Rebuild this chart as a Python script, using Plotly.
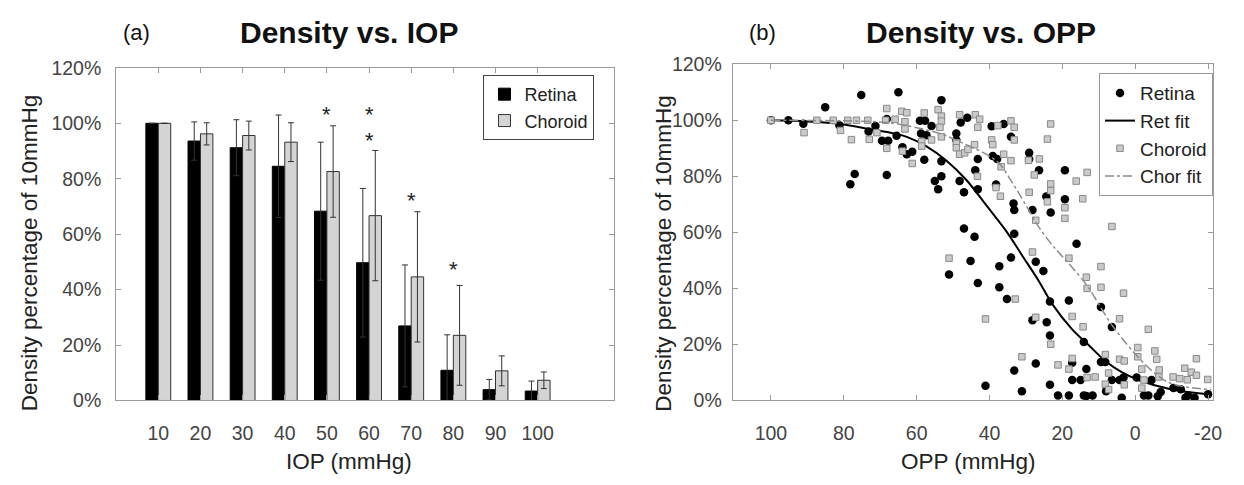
import plotly.graph_objects as go

# ---------------- Panel (a): Density vs. IOP ----------------
iop = [10, 20, 30, 40, 50, 60, 70, 80, 90, 100]
ret_mean = [100, 93.6, 91.2, 84.5, 68.3, 49.7, 26.9, 10.9, 3.9, 3.4]
ret_err = [0, 6.9, 10.1, 18.5, 24.9, 26.8, 22.0, 12.8, 3.7, 3.6]
cho_mean = [100, 96.2, 95.6, 93.2, 82.6, 66.7, 44.6, 23.5, 10.7, 7.3]
cho_err = [0, 4.0, 5.2, 7.0, 16.5, 23.5, 23.5, 18.0, 5.4, 3.0]
star_x = [50, 60, 60, 70, 80]
star_y = [105.4, 105.4, 95.8, 74.3, 49.3]
pct_ticks = [0, 20, 40, 60, 80, 100, 120]
pct_text = ["0%", "20%", "40%", "60%", "80%", "100%", "120%"]

# ---------------- Panel (b): Density vs. OPP ----------------
ret_opp = [100, 95.2, 91.1, 85.1, 81.2, 78.2, 77.0, 75.2, 73.2, 71.3, 69.5, 67.8, 68.2, 68.2,
           65.0, 53.2, 65.5, 59.1, 57.7, 55.9, 58.8, 57.3, 63.9, 61.2, 62.7, 57.9, 53.2,
           55.0, 54.1, 53.2, 49.1, 49.1, 47.9, 46.1, 48.2, 47.0, 43.9, 43.2, 43.2, 39.4, 36.1,
           34.1, 39.1, 37.9, 38.2, 33.4, 33.2, 29.1, 29.1, 28.2, 47.0, 44.1, 33.2,
           51.1, 45.2, 43.2, 37.3, 34.1, 37.3, 35.2, 33.2, 41.1, 31.1,
           16.1, 27.3, 25.2, 23.4, 18.2, 9.4, 28.2, 24.3, 23.4, 6.4, 14.1, 27.3, 9.4, 8.2,
           17.3, 13.4, 23.4, 17.3, 15.0, 6.4, 4.3, -0.4, 21.2, 18.2, 14.1, 13.4, 11.7, 8.0,
           3.7, -2.4, -3.6, 3.2, -4.5,
           26.4, 19.3, 24.4, 19.3, 23.2,
           -6.2, -7.0, -10.5, -12.5, -13.8, -16.3, -20.0, -14.5]
ret_val = [100, 100, 98.8, 104.7, 98.2, 77.2, 80.8, 109.0, 96.0, 98.0, 92.7, 92.7, 80.5, 100.5,
           110.0, 107.2, 94.5, 99.8, 99.8, 98.0, 95.3, 94.7, 90.4, 88.8, 87.9, 85.9, 85.4,
           78.3, 75.4, 80.0, 95.3, 93.0, 99.2, 100.9, 78.3, 74.3, 82.2, 86.2, 75.4, 97.9, 98.7,
           94.1, 87.3, 86.2, 77.1, 70.3, 68.0, 88.4, 86.2, 68.0, 61.4, 58.4, 59.5,
           45.0, 49.8, 41.9, 47.9, 51.0, 40.4, 36.2, 10.7, 5.3, 3.3,
           55.9, 49.5, 46.2, 35.3, 35.7, 33.4, 28.6, 27.9, 23.2, 26.2, 20.9, 13.2, 13.7, 13.7,
           13.5, 11.2, 5.6, 7.3, 7.3, 7.3, 7.3, 8.2, 1.8, 1.8, 1.8, 1.6, 1.8, 3.3,
           1.0, 1.8, 1.8, 8.2, 7.3,
           82.2, 82.2, 72.8, 71.8, 67.1,
           1.5, 3.0, 4.5, 4.0, 1.0, 1.0, 2.2, 1.8]

cho_opp = [100, 90.9, 87.4, 82.9, 80.9, 78.9, 76.5, 77.9, 73.4, 73.0, 70.9, 68.2, 68.5, 68.2,
           65.9, 64.1, 62.7, 63.2, 63.2, 63.9, 61.2, 57.9, 58.6, 58.6, 55.9, 54.1, 53.2,
           53.2, 53.6, 53.2, 48.2, 49.1, 49.1, 48.2, 46.8, 45.9, 44.1, 43.9, 42.7, 43.2, 39.4,
           39.1, 37.7, 36.1, 34.1, 34.1, 33.2, 33.2, 36.8, 38.2, 37.0, 29.1, 29.3, 43.3,
           51.1, 41.1, 32.9, 31.1,
           28.2, 18.2, 9.4, 13.4, 13.2, 9.4, 3.2, 27.3, 17.3, 4.3, 14.3, -3.6, 23.2, -0.7,
           -5.4, 8.2, -0.7, 21.2, 17.3, 18.2, 4.3, 3.0, 13.2, 11.0, 7.3, -1.8, 8.2, 3.0, 7.3,
           -2.4, -1.8,
           23.2, 24.1, 26.3, 27.7, 13.2, 16.2, 23.2, 23.2, 24.1, 14.4, 19.3, 19.3, 27.3, 6.4,
           -5.9, -6.5, -10.4, -12.2, -13.6, -15.4, -16.8, -16.8, -19.9, -14.3, -6.6]
cho_val = [100, 95.6, 100, 100, 96.4, 100, 100, 93.1, 100, 93.2, 95.6, 104.2, 100, 90.0,
           100.4, 103.2, 102.7, 99.5, 96.9, 89.0, 84.6, 102.6, 92.4, 90.8, 93.0, 103.8, 101.5,
           99.7, 97.5, 94.1, 102.0, 91.9, 90.2, 87.9, 88.4, 89.6, 91.3, 102.0, 100.4, 97.5, 93.0,
           91.3, 98.1, 87.9, 85.6, 99.8, 97.5, 93.0, 83.4, 76.0, 72.9, 74.3, 85.7, 80.0,
           50.8, 29.1, 36.2, 15.6,
           53.0, 50.8, 47.8, 44.0, 40.0, 40.4, 38.3, 29.7, 30.0, 29.2, 26.3, 25.4, 20.1, 18.9,
           17.7, 16.4, 15.6, 12.7, 15.0, 11.2, 14.7, 14.1, 8.2, 8.4, 9.8, 11.2, 5.8, 5.6, 3.9,
           7.3, 4.4,
           98.7, 93.3, 86.2, 80.5, 81.4, 78.3, 77.3, 74.9, 70.9, 72.0, 68.8, 65.0, 64.3, 62.1,
           14.7, 8.4, 8.4, 7.8, 11.5, 10.1, 9.0, 14.9, 7.5, 7.4, 10.9]

retfit_opp = [100, 90, 80.9, 73.6, 66.3, 62.7, 57.3, 51.8, 46.4, 40.9, 35.5, 30.9, 26.4,
              22.8, 17.3, 12.8, 8.2, 3.7, -0.9, -10.0, -20.8]
retfit_val = [100, 99.6, 98.7, 97.0, 95.3, 94.1, 90.7, 85.6, 78.8, 69.7, 60.6, 51.5, 42.5,
              34.5, 25.4, 19.8, 14.1, 10.1, 7.3, 3.9, 2.1]
chofit_opp = [100, 80, 68, 62.7, 53.6, 46.4, 40.9, 37.3, 33.7, 30.0, 26.4, 22.8, 20.9,
              13.5, 6.2, -0.6, -5.6, -10.0, -20.8]
chofit_val = [100, 99.8, 99.2, 98.1, 95.3, 91.3, 87.9, 84.5, 77.7, 69.7, 61.8, 55.5, 52.7,
              41.5, 26.6, 15.8, 9.5, 6.0, 3.9]

opp_ticks = [100, 80, 60, 40, 20, 0, -20]
opp_text = ["100", "80", "60", "40", "20", "0", "-20"]

FONT = "Liberation Sans, Arial, sans-serif"
W, H = 1244, 485

fig = go.Figure()

err_style = dict(type="data", visible=True, color="#333333", thickness=1, width=3)

fig.add_trace(go.Bar(
    x=iop, y=ret_mean, name="Retina", xaxis="x", yaxis="y",
    marker=dict(color="black", line=dict(color="black", width=1)),
    error_y=dict(array=ret_err, **err_style), offsetgroup="r", legend="legend"))
fig.add_trace(go.Bar(
    x=iop, y=cho_mean, name="Choroid", xaxis="x", yaxis="y",
    marker=dict(color="#d4d4d4", line=dict(color="#333333", width=1)),
    error_y=dict(array=cho_err, **err_style), offsetgroup="c", legend="legend"))

fig.add_trace(go.Scatter(
    x=ret_opp, y=ret_val, mode="markers", name="Retina", xaxis="x2", yaxis="y2",
    marker=dict(symbol="circle", size=8.5, color="black", line=dict(width=0)),
    legend="legend2"))
fig.add_trace(go.Scatter(
    x=retfit_opp, y=retfit_val, mode="lines", name="Ret fit", xaxis="x2", yaxis="y2",
    line=dict(color="black", width=2, shape="spline"), legend="legend2"))
fig.add_trace(go.Scatter(
    x=cho_opp, y=cho_val, mode="markers", name="Choroid", xaxis="x2", yaxis="y2",
    marker=dict(symbol="square", size=6.5, color="#cacaca", line=dict(color="#8a8a8a", width=1)),
    legend="legend2"))
fig.add_trace(go.Scatter(
    x=chofit_opp, y=chofit_val, mode="lines", name="Chor fit", xaxis="x2", yaxis="y2",
    line=dict(color="#8c8c8c", width=1.5, dash="dashdot", shape="spline"), legend="legend2"))

annotations = []
for sx, sy in zip(star_x, star_y):
    annotations.append(dict(x=sx, y=sy, xref="x", yref="y", text="*", showarrow=False,
                            font=dict(family=FONT, size=22, color="#222"), yshift=-6))


def pa(text, x, y, size, bold=False, angle=0, color="#111"):
    return dict(text=f"<b>{text}</b>" if bold else text, x=x / W, y=1 - y / H,
                xref="paper", yref="paper", showarrow=False, textangle=angle,
                font=dict(family=FONT, size=size, color=color),
                xanchor="center", yanchor="middle")


annotations += [
    pa("(a)", 137, 22, 22),
    pa("Density vs. IOP", 352, 22, 30, bold=True),
    pa("(b)", 768, 22, 22),
    pa("Density vs. OPP", 988, 22, 30, bold=True),
    pa("Density percentage of 10mmHg", 30, 254, 22.5, angle=-90, color="#222"),
    pa("Density percentage of 10mmHg", 668, 254, 22.5, angle=-90, color="#222"),
    pa("IOP (mmHg)", 352, 472, 22.5, color="#222"),
    pa("OPP (mmHg)", 976, 472, 22.5, color="#222"),
]

axis_common = dict(showline=True, linecolor="#9a9a9a", linewidth=1, mirror="allticks",
                   ticks="inside", ticklen=5, tickcolor="#9a9a9a", showgrid=False,
                   zeroline=False, tickfont=dict(family=FONT, size=19.5, color="#444"))

fig.update_layout(
    width=W, height=H, margin=dict(l=0, r=0, t=0, b=0),
    paper_bgcolor="white", plot_bgcolor="white",
    barmode="group", bargap=0.41, bargroupgap=0,
    font=dict(family=FONT),
    xaxis=dict(domain=[117 / W, 618 / W], range=[0, 118], tickvals=iop,
               anchor="y", ticklabelstandoff=15, **axis_common),
    yaxis=dict(domain=[1 - 408 / H, 1 - 59.6 / H], range=[0, 120], tickvals=pct_ticks,
               ticktext=pct_text, anchor="x", ticklabelstandoff=10, **axis_common),
    xaxis2=dict(domain=[738 / W, 1222 / W], range=[110.5, -21.4], tickvals=opp_ticks,
                ticktext=opp_text, anchor="y2", ticklabelstandoff=15, **axis_common),
    yaxis2=dict(domain=[1 - 408 / H, 1 - 55.8 / H], range=[0, 120], tickvals=pct_ticks,
                ticktext=pct_text, anchor="x2", ticklabelstandoff=6, **axis_common),
    legend=dict(x=487 / W, y=1 - 67 / H, xanchor="left", yanchor="top",
                bgcolor="white", bordercolor="#444", borderwidth=1,
                font=dict(family=FONT, size=18, color="#222"), tracegroupgap=0),
    legend2=dict(x=1107 / W, y=1 - 65 / H, xanchor="left", yanchor="top",
                 bgcolor="white", bordercolor="#999", borderwidth=1,
                 font=dict(family=FONT, size=19, color="#222"), tracegroupgap=0),
    annotations=annotations,
    showlegend=True,
)

fig.write_html("out.html")
